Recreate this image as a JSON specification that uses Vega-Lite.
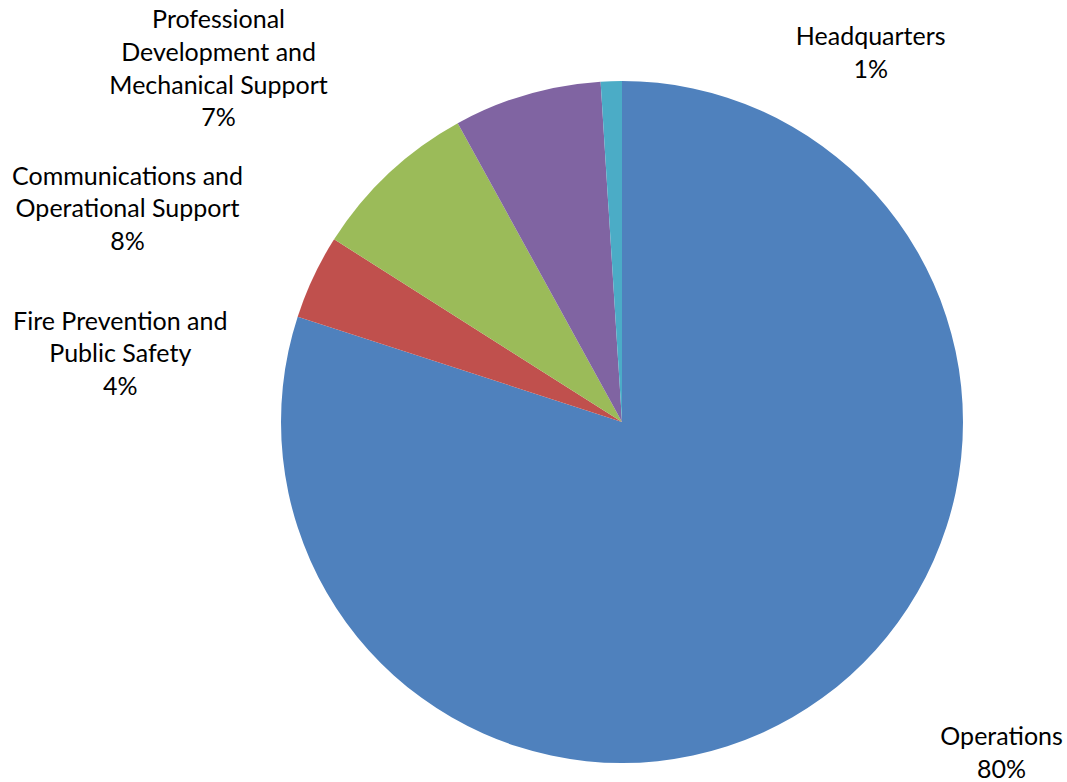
{
  "$schema": "https://vega.github.io/schema/vega-lite/v6.json",
  "autosize": {"type": "none"},
  "width": 682,
  "height": 682,
  "padding": {"left": 281, "top": 81, "right": 104, "bottom": 19},
  "background": "white",
  "view": {"stroke": null},
  "config": {"text": {"font": "Lato", "fontSize": 25, "lineHeight": 32.7, "align": "center", "baseline": "middle", "color": "#000000", "lineBreak": "\n"}},
  "data": {"values": [
    {"category": "Operations", "value": 80, "rank": 1, "label": "Operations\n80%"},
    {"category": "Fire Prevention and Public Safety", "value": 4, "rank": 2, "label": "Fire Prevention and\nPublic Safety\n4%"},
    {"category": "Communications and Operational Support", "value": 8, "rank": 3, "label": "Communications and\nOperational Support\n8%"},
    {"category": "Professional Development and Mechanical Support", "value": 7, "rank": 4, "label": "Professional\nDevelopment and\nMechanical Support\n7%"},
    {"category": "Headquarters", "value": 1, "rank": 5, "label": "Headquarters\n1%"}
  ]},
  "encoding": {
    "theta": {"field": "value", "type": "quantitative", "stack": true},
    "order": {"field": "rank", "type": "quantitative"},
    "detail": {"field": "category", "type": "nominal"}
  },
  "layer": [
    {
      "mark": {"type": "arc", "stroke": null},
      "encoding": {
        "color": {"field": "category", "type": "nominal", "legend": null,
          "scale": {"domain": ["Operations", "Fire Prevention and Public Safety", "Communications and Operational Support", "Professional Development and Mechanical Support", "Headquarters"],
                    "range": ["#4F81BD", "#C0504D", "#9BBB59", "#8064A2", "#4BACC6"]}}
      }
    },
    {
      "mark": {"type": "text", "radius": 360, "dx": 168, "dy": 24},
      "encoding": {"text": {"condition": {"test": "datum.category === 'Operations'", "field": "label"}, "value": ""}}
    },
    {
      "mark": {"type": "text", "radius": 360, "dx": -176, "dy": 53},
      "encoding": {"text": {"condition": {"test": "datum.category === 'Fire Prevention and Public Safety'", "field": "label"}, "value": ""}}
    },
    {
      "mark": {"type": "text", "radius": 360, "dx": -248, "dy": 17},
      "encoding": {"text": {"condition": {"test": "datum.category === 'Communications and Operational Support'", "field": "label"}, "value": ""}}
    },
    {
      "mark": {"type": "text", "radius": 360, "dx": -303, "dy": -56},
      "encoding": {"text": {"condition": {"test": "datum.category === 'Professional Development and Mechanical Support'", "field": "label"}, "value": ""}}
    },
    {
      "mark": {"type": "text", "radius": 360, "dx": 260, "dy": -25},
      "encoding": {"text": {"condition": {"test": "datum.category === 'Headquarters'", "field": "label"}, "value": ""}}
    }
  ]
}
